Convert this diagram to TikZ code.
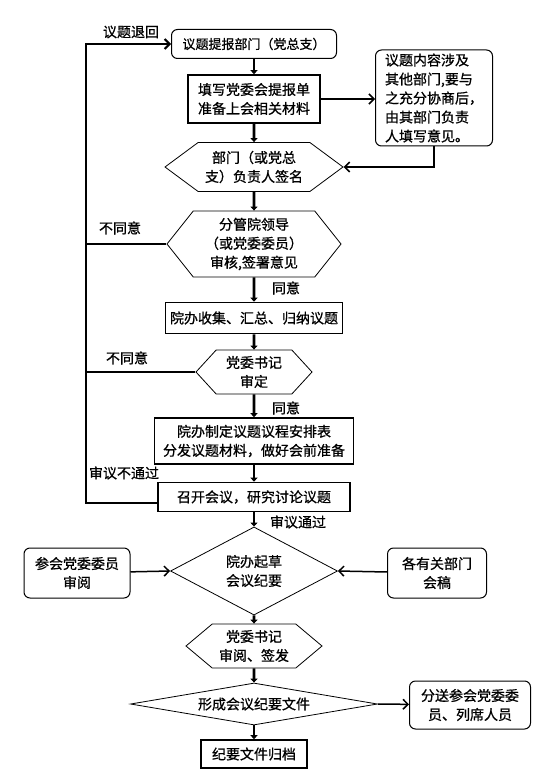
\documentclass[tikz,border=0pt]{standalone}
\usepackage{fontspec}
\setmainfont{Noto Sans CJK SC}[FakeBold=0.8]
\usetikzlibrary{shapes.geometric,shapes.symbols,arrows.meta}

\tikzset{
  box/.style={draw,line width=1.6pt,align=center,inner sep=0pt},
  rbox/.style={draw,line width=1pt,rounded corners=6pt,align=center,inner sep=0pt},
  hexa/.style={signal,signal to=east and west,draw,line width=0.8pt,align=center,inner sep=0pt},
  dia/.style={diamond,draw,line width=0.8pt,align=center,inner sep=0pt},
  down/.style={line width=2.6pt,-{Triangle[width=7pt,length=4pt]}},
  side/.style={line width=1.5pt,-{Straight Barb[length=5pt,width=10pt]}},
  back/.style={line width=2pt}
}

\begin{document}
\begin{tikzpicture}[x=1pt,y=-1pt,font=\fontsize{14}{19}\selectfont]
    \useasboundingbox (0,0) rectangle (551,778);

    % Submission and preparation
    \node[rbox,minimum width=165,minimum height=29,font=\fontsize{13}{17}\selectfont] (submit) at (254,44) {议题提报部门（党总支）};
    \node[box,minimum width=132,minimum height=48] (fill) at (254,99) {填写党委会提报单\\准备上会相关材料};
    \node[rbox,minimum width=117,minimum height=96,align=left] (note) at (434,98) {议题内容涉及\\其他部门,要与\\之充分协商后，\\由其部门负责\\人填写意见。};
    \node[hexa,minimum width=178,minimum height=49,signal pointer angle=73] (sign) at (254,167) {部门（或党总\\支）负责人签名};

    % Review
    \node[hexa,minimum width=174,minimum height=66,signal pointer angle=103] (review) at (254,244) {分管院领导\\（或党委委员）\\审核,签署意见};
    \node[box,minimum width=177,minimum height=31] (collect) at (254,318) {院办收集、汇总、归纳议题};
    \node[hexa,minimum width=116,minimum height=44,signal pointer angle=95] (verify) at (254,372) {党委书记\\审定};
    \node[box,minimum width=199,minimum height=46] (plan) at (254,441) {院办制定议题议程安排表\\分发议题材料，做好会前准备};
    \node[box,minimum width=192,minimum height=29] (meet) at (254,497) {召开会议，研究讨论议题};

    % Minutes
    \node[dia,minimum width=167,minimum height=76] (draft) at (254,571) {院办起草\\会议纪要};
    \node[rbox,minimum width=106,minimum height=50] (peer) at (77,573) {参会党委委员\\审阅};
    \node[rbox,minimum width=99,minimum height=50] (dept) at (437,573) {各有关部门\\会稿};
    \node[hexa,minimum width=136,minimum height=44,signal pointer angle=80] (issue) at (254,646) {党委书记\\审阅、签发};
    \node[dia,aspect=5.9,minimum width=247,minimum height=42] (form) at (254,704) {形成会议纪要文件};
    \node[rbox,minimum width=121,minimum height=48] (send) at (470,705) {分送参会党委委\\员、列席人员};
    \node[box,minimum width=106,minimum height=28] (archive) at (254,754) {纪要文件归档};

    % Main flow
    \draw[down] (submit) -- (fill);
    \draw[down] (fill) -- (sign);
    \draw[down] (sign) -- (review);
    \draw[down] (review) -- (collect);
    \draw[down] (collect) -- (verify);
    \draw[down] (verify) -- (plan);
    \draw[down] (plan) -- (meet);
    \draw[down] (meet) -- (draft);
    \draw[down] (draft) -- (issue);
    \draw[down] (issue) -- (form);
    \draw[down] (form) -- (archive);

    % Side arrows
    \draw[side] (fill.east) -- (fill.east -| note.west);
    \draw[side] (note.south) |- (sign.east);
    \draw[side] (peer) -- (draft.west);
    \draw[side] (dept) -- (draft.east);
    \draw[side] (form.east) -- (send);

    % Return line
    \coordinate (turn) at (86,44);
    \draw[back,-{Straight Barb[length=5pt,width=10pt]}] ([yshift=-6pt]meet.west) -| (turn) -- (submit.west);
    \draw[back] (review.west) -- (review.west -| turn);
    \draw[back] (verify.west) -- (verify.west -| turn);

    % Labels
    \node (lreturn) at (131,32) {议题退回};
    \node (lno1) at (120,228) {不同意};
    \node (lyes1) at (286,288) {同意};
    \node (lno2) at (127,358) {不同意};
    \node (lyes2) at (286,408) {同意};
    \node (lfail) at (124,473) {审议不通过};
    \node (lpass) at (298,522) {审议通过};
\end{tikzpicture}
\end{document}
